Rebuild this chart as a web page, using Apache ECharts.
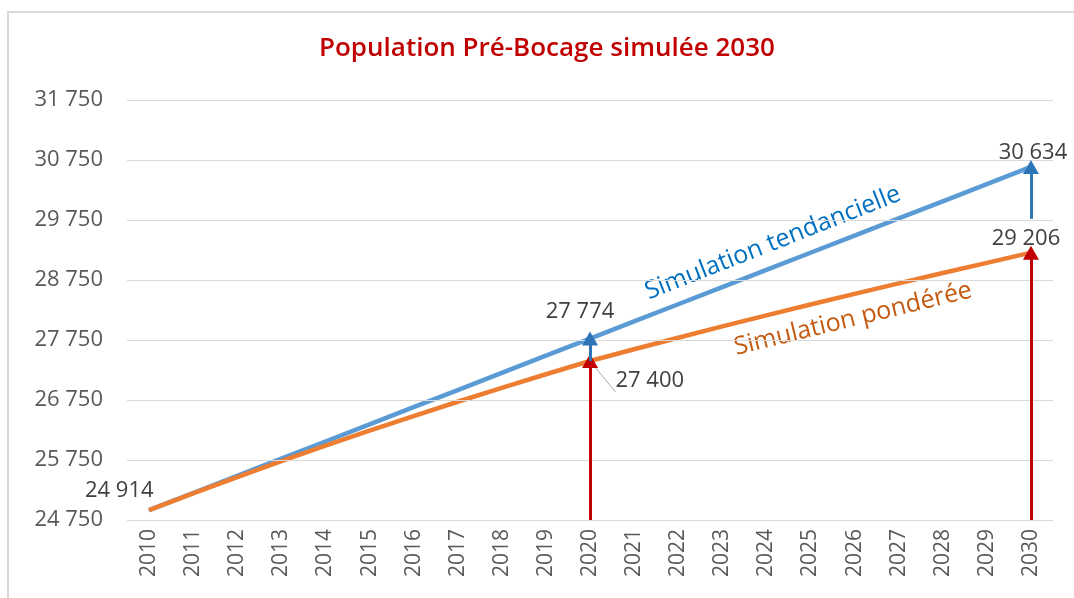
<!DOCTYPE html>
<html>
<head>
    <meta charset="utf-8">
    <title>Population Pré-Bocage simulée 2030</title>
    <script src="https://cdn.jsdelivr.net/npm/echarts@6/dist/echarts.min.js"></script>
    <style>
        html, body { margin: 0; padding: 0; background: #fff; }
        #main { width: 1074px; height: 598px; }
    </style>
</head>
<body>
    <div id="main"></div>
    <script>
        // données
        var years = ['2010','2011','2012','2013','2014','2015','2016','2017','2018','2019','2020',
                     '2021','2022','2023','2024','2025','2026','2027','2028','2029','2030'];
        var tendancielle = [24914, 25200, 25486, 25772, 26058, 26344, 26630, 26916, 27202, 27488, 27774,
                            28060, 28346, 28632, 28918, 29204, 29490, 29776, 30062, 30348, 30634];
        var ponderee = [24914, 25194, 25466, 25731, 25989, 26239, 26483, 26721, 26953, 27179, 27400,
                        27596, 27788, 27976, 28160, 28341, 28519, 28694, 28866, 29036, 29206];
        var yTicks = [24750, 25750, 26750, 27750, 28750, 29750, 30750, 31750];
        // flèches : [année, départ, arrivée]
        var redArrows = [['2020', 24750, 27400], ['2030', 24750, 29206]];
        var blueArrows = [['2020', 27400, 27774], ['2030', 29770, 30634]];

        function fmt(v) {
            return String(v).replace(/\B(?=(\d{3})+(?!\d))/g, ' ');
        }

        var myChart = echarts.init(document.getElementById('main'));

        var labelStyle = { fontSize: 22, color: '#404040', fontFamily: 'Open Sans',
                           formatter: function (p) { return fmt(p.value); } };
        var noLine = { show: false };

        var blueData = tendancielle.map(function (v, i) {
            if (i === 10) return { value: v, label: Object.assign({ show: true, position: 'top', offset: [-10, -10] }, labelStyle) };
            if (i === 20) return { value: v, label: Object.assign({ show: true, position: 'top', offset: [2, 2] }, labelStyle) };
            return v;
        });
        var orangeData = ponderee.map(function (v, i) {
            if (i === 0) return { value: v, labelLine: noLine, label: Object.assign({ show: true, position: 'left', offset: [10, -19] }, labelStyle) };
            if (i === 10) return { value: v, label: Object.assign({ show: true, position: 'right', offset: [20, 20] }, labelStyle) };
            if (i === 20) return { value: v, labelLine: noLine, label: Object.assign({ show: true, position: 'top', offset: [-5, 3] }, labelStyle) };
            return v;
        });

        function arrowLines(list) {
            return list.map(function (a) {
                return [{ coord: [a[0], a[1]] }, { coord: [a[0], a[2]] }];
            });
        }

        myChart.setOption({
            animation: false,
            title: {
                text: 'Population Pré-Bocage simulée 2030',
                left: 314,
                top: 31,
                textStyle: { color: '#C00000', fontSize: 26, fontWeight: 600, fontFamily: 'Open Sans' }
            },
            grid: { left: 127, right: 21, top: 100, bottom: 78 },
            xAxis: {
                type: 'category',
                data: years,
                boundaryGap: true,
                axisLine: { show: false },
                axisTick: { show: false },
                axisLabel: { rotate: 90, fontSize: 21, color: '#595959', margin: 9, fontFamily: 'Open Sans' }
            },
            yAxis: {
                type: 'value',
                min: 24750,
                max: 31750,
                interval: 250,
                splitLine: { show: false },
                axisLine: { show: false },
                axisTick: { show: false },
                axisLabel: {
                    fontSize: 22, color: '#595959', margin: 24, fontFamily: 'Open Sans',
                    formatter: function (v) { return yTicks.indexOf(v) >= 0 ? fmt(v) : ''; }
                }
            },
            graphic: [
                { type: 'rect', shape: { x: 8, y: 12, width: 1080, height: 600 }, style: { fill: 'none', stroke: '#d9d9d9', lineWidth: 2 } },
                { type: 'text', x: 773, y: 243, rotation: 0.375, style: { text: 'Simulation tendancielle', fill: '#0070C0', fontSize: 25, fontFamily: 'Open Sans', align: 'center', verticalAlign: 'middle' } },
                { type: 'text', x: 853, y: 319, rotation: 0.24, style: { text: 'Simulation pondérée', fill: '#C55A11', fontSize: 25, fontFamily: 'Open Sans', align: 'center', verticalAlign: 'middle' } }
            ],
            series: [
                {
                    name: 'grille', type: 'line', data: [], z: 1, silent: true,
                    markLine: {
                        silent: true, symbol: 'none', label: { show: false },
                        lineStyle: { color: '#d9d9d9', type: 'solid', width: 1 },
                        data: yTicks.map(function (v) { return { yAxis: v }; })
                    }
                },
                {
                    name: 'Simulation tendancielle', type: 'line', data: blueData, z: 3,
                    symbol: 'circle', symbolSize: 1, showSymbol: true,
                    lineStyle: { color: '#5B9BD5', width: 4.5 }, itemStyle: { color: '#5B9BD5' }
                },
                {
                    name: 'Simulation pondérée', type: 'line', data: orangeData, z: 3,
                    symbol: 'circle', symbolSize: 1, showSymbol: true,
                    lineStyle: { color: '#ED7D31', width: 4.5 }, itemStyle: { color: '#ED7D31' },
                    labelLine: { show: true, lineStyle: { color: '#a6a6a6', width: 1 } }
                },
                {
                    name: 'flèches rouges', type: 'line', data: [], z: 4,
                    markLine: {
                        silent: true, symbol: ['none', 'triangle'], symbolSize: [16, 14],
                        label: { show: false },
                        lineStyle: { color: '#C00000', type: 'solid', width: 3 },
                        data: arrowLines(redArrows)
                    }
                },
                {
                    name: 'flèches bleues', type: 'line', data: [], z: 4,
                    markLine: {
                        silent: true, symbol: ['none', 'triangle'], symbolSize: [16, 14],
                        label: { show: false },
                        lineStyle: { color: '#2E75B6', type: 'solid', width: 3 },
                        data: arrowLines(blueArrows)
                    }
                }
            ]
        });
    </script>
</body>
</html>
